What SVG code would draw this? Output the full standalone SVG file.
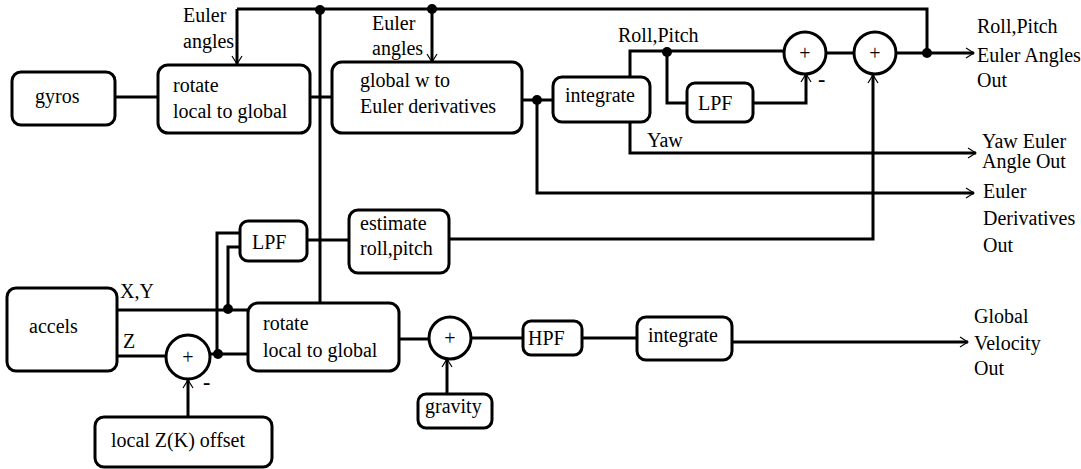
<svg xmlns="http://www.w3.org/2000/svg" width="1081" height="469" viewBox="0 0 1081 469">
<defs>
<style>
text{font-family:"Liberation Serif","Times New Roman",serif;font-size:20px;fill:#000}
.box{fill:#fff;stroke:#000;stroke-width:3}
.sum{fill:#fff;stroke:#000;stroke-width:3}
.w{fill:none;stroke:#000;stroke-width:3}
.a{fill:none;stroke:#000;stroke-width:3;marker-end:url(#arr)}
.dot{fill:#000}
.pl{text-anchor:middle;font-size:20px}
.mi{font-weight:bold;font-size:22px}
</style>
<marker id="arr" viewBox="0 0 10 12" refX="9" refY="6" markerWidth="10" markerHeight="12" markerUnits="userSpaceOnUse" orient="auto">
<path d="M1,1 L9,6 L1,11" fill="none" stroke="#000" stroke-width="1.2"/>
</marker>
</defs>
<rect width="1081" height="469" fill="#fff"/>
<g id="connectors">
<path class="w" d="M237,9 H927 V53"/>
<path class="a" d="M237,9 V64"/>
<path class="a" d="M432,9 V62"/>
<path class="w" d="M320,10 V303"/>
<path class="w" d="M115,97 H158"/>
<path class="w" d="M310,97 H332"/>
<path class="w" d="M522,100 H553"/>
<path class="a" d="M537,100 V193 H974"/>
<path class="w" d="M630,77 V51 H784"/>
<path class="w" d="M667,51 V103 H687"/>
<path class="a" d="M753,103 H806 V74"/>
<path class="a" d="M630,122 V153 H976"/>
<path class="w" d="M826,53 H854"/>
<path class="a" d="M896,53 H974"/>
<path class="w" d="M307,240 H349"/>
<path class="a" d="M449,239 H873 V75"/>
<path class="w" d="M117,310 H248"/>
<path class="w" d="M228,310 V247 H240"/>
<path class="w" d="M117,356 H166"/>
<path class="w" d="M210,354 H248"/>
<path class="w" d="M217,354 V233 H240"/>
<path class="a" d="M188,417 V380"/>
<path class="w" d="M399,339 H429"/>
<path class="a" d="M447,394 V359"/>
<path class="w" d="M471,338 H523"/>
<path class="w" d="M582,338 H637"/>
<path class="a" d="M732,342 H968"/>
<circle class="dot" cx="320" cy="10" r="5"/>
<circle class="dot" cx="432" cy="9" r="5"/>
<circle class="dot" cx="537" cy="100" r="5"/>
<circle class="dot" cx="667" cy="52" r="5"/>
<circle class="dot" cx="927" cy="53" r="5"/>
<circle class="dot" cx="228" cy="309" r="5"/>
<circle class="dot" cx="218" cy="354" r="5"/>
</g>
<g id="labels">
<text x="183" y="22">Euler</text>
<text x="183" y="48">angles</text>
<text x="372" y="30">Euler</text>
<text x="372" y="55">angles</text>
<text x="618" y="42">Roll,Pitch</text>
<text x="647" y="147">Yaw</text>
<text x="120" y="298">X,Y</text>
<text x="123" y="348">Z</text>
<text class="mi" x="818" y="86">-</text>
<text class="mi" x="203" y="389">-</text>
</g>
<g id="out-rollpitch">
<text x="977" y="33">Roll,Pitch</text>
<text x="977" y="62">Euler Angles</text>
<text x="977" y="87">Out</text>
</g>
<g id="out-yaw">
<text x="982" y="148">Yaw Euler</text>
<text x="982" y="168">Angle Out</text>
</g>
<g id="out-deriv">
<text x="983" y="198">Euler</text>
<text x="983" y="225">Derivatives</text>
<text x="983" y="252">Out</text>
</g>
<g id="out-vel">
<text x="974" y="323">Global</text>
<text x="974" y="350">Velocity</text>
<text x="974" y="375">Out</text>
</g>
<g id="gyros">
<rect class="box" x="12" y="72" width="103" height="53" rx="9"/>
<text x="35" y="103">gyros</text>
</g>
<g id="rotate1">
<rect class="box" x="158" y="65" width="152" height="68" rx="10"/>
<text x="173" y="92">rotate</text>
<text x="173" y="118">local to global</text>
</g>
<g id="euler-deriv">
<rect class="box" x="332" y="62" width="190" height="71" rx="10"/>
<text x="360" y="87">global w to</text>
<text x="360" y="113">Euler derivatives</text>
</g>
<g id="integrate1">
<rect class="box" x="553" y="77" width="97" height="45" rx="9"/>
<text x="565" y="102">integrate</text>
</g>
<g id="lpf1">
<rect class="box" x="687" y="83" width="66" height="39" rx="8"/>
<text x="698" y="110">LPF</text>
</g>
<g id="sum1">
<circle class="sum" cx="805" cy="53" r="21"/>
<text class="pl" x="805" y="60">+</text>
</g>
<g id="sum2">
<circle class="sum" cx="875" cy="53" r="21"/>
<text class="pl" x="875" y="60">+</text>
</g>
<g id="lpf2">
<rect class="box" x="240" y="221" width="67" height="40" rx="8"/>
<text x="252" y="249">LPF</text>
</g>
<g id="estimate">
<rect class="box" x="349" y="210" width="100" height="63" rx="9"/>
<text x="360" y="230">estimate</text>
<text x="360" y="255">roll,pitch</text>
</g>
<g id="accels">
<rect class="box" x="7" y="288" width="110" height="83" rx="9"/>
<text x="29" y="333">accels</text>
</g>
<g id="sum3">
<circle class="sum" cx="188" cy="357" r="22"/>
<text class="pl" x="188" y="364">+</text>
</g>
<g id="offset">
<rect class="box" x="95" y="417" width="177" height="50" rx="9"/>
<text x="111" y="447">local Z(K) offset</text>
</g>
<g id="rotate2">
<rect class="box" x="248" y="303" width="151" height="68" rx="10"/>
<text x="263" y="330">rotate</text>
<text x="263" y="357">local to global</text>
</g>
<g id="sum4">
<circle class="sum" cx="450" cy="338" r="21"/>
<text class="pl" x="450" y="345">+</text>
</g>
<g id="gravity">
<rect class="box" x="418" y="394" width="74" height="34" rx="8"/>
<text x="425" y="413">gravity</text>
</g>
<g id="hpf">
<rect class="box" x="523" y="321" width="59" height="34" rx="8"/>
<text x="528" y="345">HPF</text>
</g>
<g id="integrate2">
<rect class="box" x="637" y="317" width="95" height="43" rx="9"/>
<text x="648" y="342">integrate</text>
</g>
</svg>
